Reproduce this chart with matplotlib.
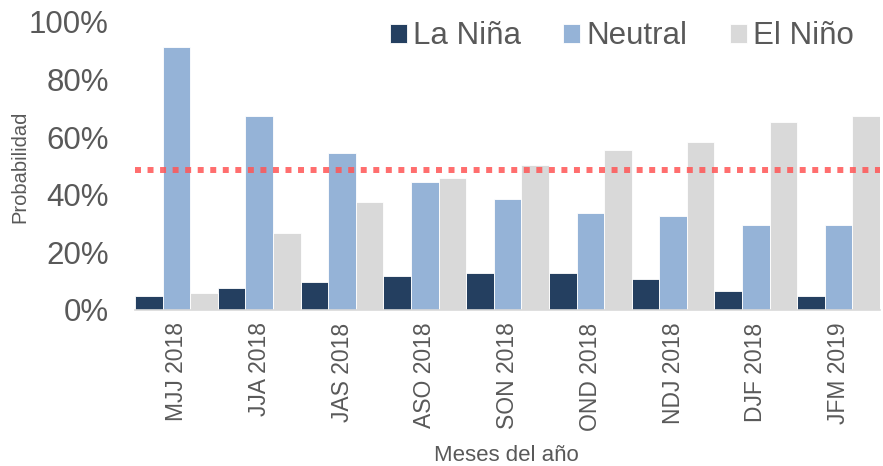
import numpy as np
import matplotlib
matplotlib.use("Agg")
import matplotlib.pyplot as plt
from matplotlib.ticker import PercentFormatter

periodos = ["MJJ 2018", "JJA 2018", "JAS 2018", "ASO 2018", "SON 2018",
            "OND 2018", "NDJ 2018", "DJF 2018", "JFM 2019"]
la_nina = [4.9, 7.6, 9.7, 11.8, 12.8, 12.8, 10.8, 6.6, 4.9]
neutral = [91.3, 67.4, 54.5, 44.4, 38.5, 33.7, 32.6, 29.5, 29.5]
el_nino = [5.9, 26.7, 37.5, 45.8, 50.3, 55.6, 58.3, 65.3, 67.4]
umbral = 48.6

plt.rcParams['font.family'] = ['Liberation Sans', 'DejaVu Sans']
gris = "#595959"

fig = plt.figure(figsize=(8.83, 4.66), dpi=100)
ax = fig.add_axes([0.153, 0.3348, 0.8436, 0.618])

x = np.arange(len(periodos))
w = 1 / 3
series = [(la_nina, "#243F60", "La Niña"),
          (neutral, "#95B3D7", "Neutral"),
          (el_nino, "#D9D9D9", "El Niño")]
for i, (vals, col, lab) in enumerate(series):
    ax.bar(x - 0.5 + w * (i + 0.5), vals, w, color=col, label=lab,
           edgecolor="white", linewidth=0.6)

ax.axhline(umbral, color="#FF5555", alpha=0.85, linewidth=4.3,
           linestyle=(0, (1, 1.1)))

ax.set_xlim(-0.5, len(periodos) - 0.5)
ax.set_ylim(0, 100)
ax.set_yticks([0, 20, 40, 60, 80, 100])
ax.yaxis.set_major_formatter(PercentFormatter(decimals=0))
ax.set_xticks(x)
ax.set_xticklabels(periodos, rotation=90)
ax.tick_params(axis='y', labelsize=22.5, labelcolor=gris, length=0, pad=19)
ax.tick_params(axis='x', labelsize=16.5, labelcolor=gris, length=0, pad=9)

for s in ["top", "right", "left"]:
    ax.spines[s].set_visible(False)
ax.spines["bottom"].set_color("#D9D9D9")
ax.spines["bottom"].set_linewidth(1.2)

fig.text(0.023, 0.642, "Probabilidad", rotation=90, fontsize=14.5,
         color=gris, ha="center", va="center")
fig.text(0.574, 0.022, "Meses del año", fontsize=16, color=gris,
         ha="center", va="center")

leg = ax.legend(loc="upper right", bbox_to_anchor=(1.003, 1.10), ncol=3,
                frameon=False, fontsize=22.5, handlelength=0.55,
                handleheight=0.55, handletextpad=0.2, columnspacing=1.35)
for t in leg.get_texts():
    t.set_color(gris)

fig.savefig("out.png", dpi=100)
